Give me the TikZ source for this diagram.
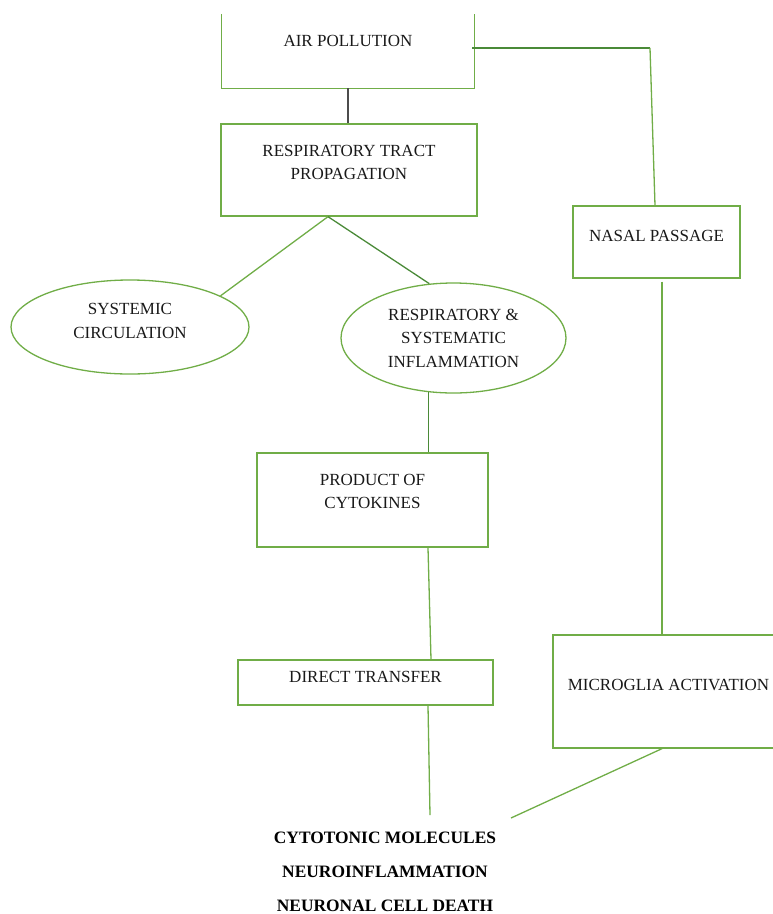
\documentclass[tikz,border=0pt]{standalone}
\usepackage{fontspec}
\setmainfont{Liberation Serif}
\usetikzlibrary{calc,positioning,shapes.geometric}
\definecolor{boxgreen}{HTML}{70AD47}
\definecolor{wiregreen}{HTML}{4A8A38}
\tikzset{
  box/.style   = {draw=boxgreen, line width=1.3pt, inner sep=0pt},
  oval/.style  = {ellipse, draw=boxgreen, line width=1.3pt, inner sep=0pt},
  txt/.style   = {font=\fontsize{17}{23.5}\selectfont, align=center, text=black!90},
  outtxt/.style= {font=\bfseries\fontsize{17.4}{34}\selectfont, align=center},
  wire/.style  = {line width=1.3pt, boxgreen},
  dwire/.style = {line width=1.3pt, wiregreen},
  gwire/.style = {line width=1.3pt, black!70},
}

\begin{document}
\begin{tikzpicture}[x=1pt,y=-1pt]
  \clip (0,0) rectangle (773,914);
  % boxes
  \node[inner sep=0pt, minimum width=252pt, minimum height=74pt] (air) at (348,51) {};
  \draw[box] (air.north west) -- (air.south west) -- (air.south east) -- (air.north east);
  \node[txt] (airT) at (348,41) {AIR POLLUTION};
  \node[box, minimum width=256pt, minimum height=92pt] (resp) at (349,170) {};
  \node[txt] (respT) at (349,162.5) {RESPIRATORY TRACT\\PROPAGATION};
  \node[box, minimum width=167pt, minimum height=72pt] (nasal) at (656.5,242) {};
  \node[txt] (nasalT) at (656.5,236) {NASAL PASSAGE};
  \node[oval, minimum width=238pt, minimum height=94pt] (syst) at (130,327) {};
  \node[txt] (systT) at (130,321) {SYSTEMIC\\CIRCULATION};
  \node[oval, minimum width=225pt, minimum height=110pt] (infl) at (453.5,338) {};
  \node[txt] (inflT) at (453.5,338) {RESPIRATORY \&\\SYSTEMATIC\\INFLAMMATION};
  \node[box, minimum width=231pt, minimum height=94pt] (prod) at (372.5,500) {};
  \node[txt] (prodT) at (372.5,491.5) {PRODUCT OF\\CYTOKINES};
  \node[box, minimum width=255pt, minimum height=45pt] (direct) at (365.5,682.5) {};
  \node[txt] (directT) at (365.5,677) {DIRECT TRANSFER};
  \node[box, minimum width=230pt, minimum height=113pt] (micro) at (668,691.5) {};
  \node[txt] (microT) at (668.5,685) {MICROGLIA ACTIVATION};
  \node[outtxt] (out) at (385,872) {CYTOTONIC MOLECULES\\NEUROINFLAMMATION\\NEURONAL CELL DEATH};
  \coordinate (bend) at (650,48);
  \coordinate (outA) at (430,815);
  \coordinate (outB) at (511,818);
  \coordinate (split) at ($(resp.south)+(-21,0)$);
  % connectors
  \draw[gwire] (air.south) -- (air.south |- resp.north);
  \draw[dwire] ($(air.east)+(-2,-3)$) -- (bend);
  \draw[wire] (bend) -- ($(nasal.north)+(-1.5,0)$);
  \draw[wire] (split) -- (syst.19);
  \draw[dwire] (split) -- (infl.114);
  \draw[dwire] (infl.245) -- (infl.245 |- prod.north);
  \draw[wire] ($(prod.south)+(55.5,0)$) -- ($(direct.north)+(65.5,0)$);
  \draw[wire] ($(direct.south)+(62.5,0)$) -- (outA);
  \draw[wire] ($(nasal.south)+(5.5,3)$) -- ($(micro.north)+(-6,0)$);
  \draw[wire] ($(micro.south)+(-6,0)$) -- (outB);
\end{tikzpicture}
\end{document}
